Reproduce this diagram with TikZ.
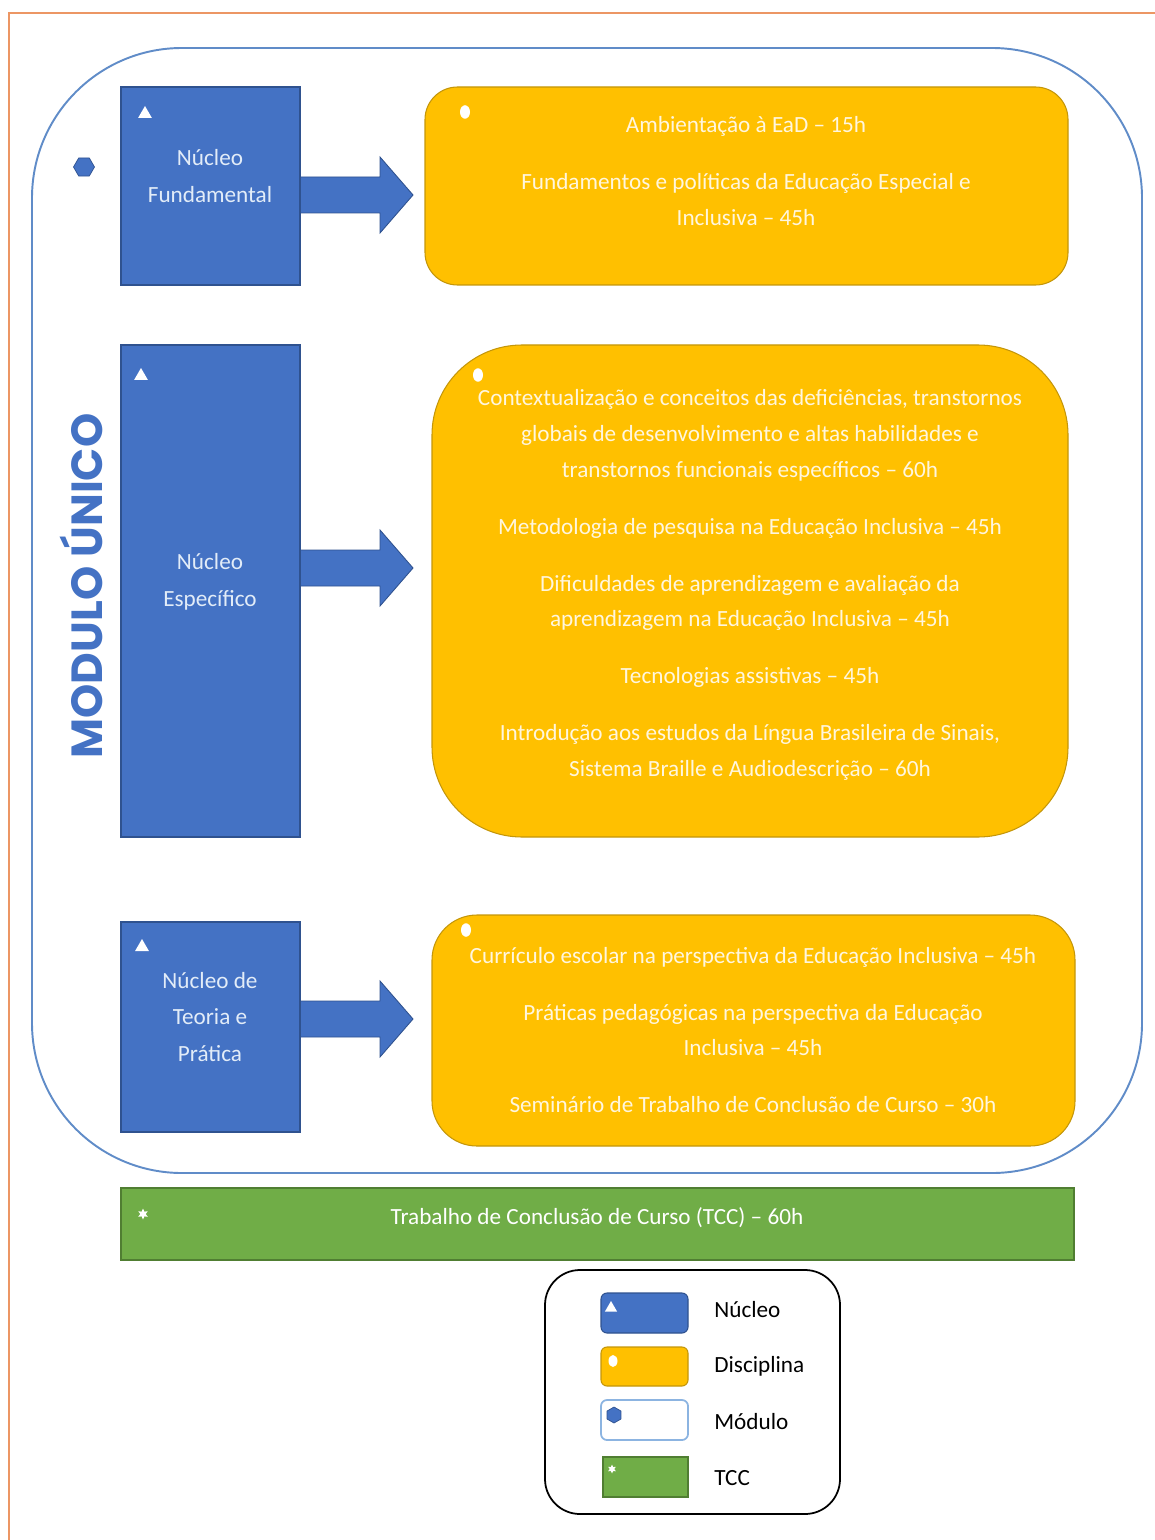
\documentclass[tikz,border=0pt]{standalone}
\usepackage{fontspec}
\setmainfont{Carlito}
\newfontfamily\modfont{Poppins}
\usetikzlibrary{shapes.geometric,fit}
\definecolor{nucleoblue}{RGB}{68,114,196}
\definecolor{nucleoedge}{RGB}{47,82,143}
\definecolor{nucleotext}{RGB}{226,236,248}
\definecolor{discgold}{RGB}{255,192,0}
\definecolor{discedge}{RGB}{196,150,10}
\definecolor{disctext}{RGB}{255,246,222}
\definecolor{tccgreen}{RGB}{112,173,71}
\definecolor{tccedge}{RGB}{80,126,50}
\definecolor{modline}{RGB}{96,140,200}
\definecolor{legmod}{RGB}{140,180,225}
\definecolor{pageline}{RGB}{236,150,100}
\tikzstyle{nucleo}=[draw=nucleoedge, fill=nucleoblue, line width=.6pt, inner sep=0pt]
\tikzstyle{disc}=[draw=discedge, fill=discgold, line width=.6pt, inner sep=0pt]
\tikzstyle{tccbar}=[draw=tccedge, fill=tccgreen, line width=.8pt, inner sep=0pt]
\tikzstyle{modbox}=[draw=modline, line width=1.1pt, inner sep=0pt, rounded corners=3cm]
\tikzstyle{ntext}=[align=center, text=nucleotext, font=\fontsize{13.2}{21}\selectfont]
\tikzstyle{dtext}=[align=center, text=disctext, font=\fontsize{13.2}{20.4}\selectfont]
\tikzstyle{legtext}=[anchor=west, inner sep=0pt, text=black, font=\fontsize{13.2}{16}\selectfont]
\tikzstyle{tri}=[regular polygon, regular polygon sides=3, fill=white, inner sep=0pt, minimum size=.32cm]
\tikzstyle{pip}=[ellipse, fill=white, inner sep=0pt, minimum width=.2cm, minimum height=.27cm]
\tikzstyle{hexa}=[regular polygon, regular polygon sides=6, fill=nucleoblue, draw=nucleoedge, line width=.4pt, inner sep=0pt, minimum size=.42cm]
\tikzstyle{asterisk}=[star, star points=6, star point ratio=2, fill=white, inner sep=0pt, minimum size=.22cm]

\begin{document}
\begin{tikzpicture}[x=0.02cm, y=-0.02cm]
    \useasboundingbox (0,0) rectangle (1155,1540);
    \draw[draw=pageline, line width=1.3pt] (9,1540) -- (9,13) -- (1155,13);

    % modulo unico
    \node[modbox, fit={(32,48) (1142,1173)}] (mod) {};
    \node[hexa] (modhex) at (84,167) {};
    \node[rotate=90, text=nucleoblue, font=\modfont\bfseries\fontsize{24.8}{24.8}\selectfont] (modtitle) at (81,586) {MODULO ÚNICO};

    % block arrows
    \foreach \ay in {195,568,1019}{
      \draw[fill=nucleoblue, draw=nucleoedge, line width=.5pt] (300,\ay-18) -- (380,\ay-18) -- (380,\ay-38) -- (413,\ay)
        -- (380,\ay+38) -- (380,\ay+18) -- (300,\ay+18) -- cycle;
    }

    % nucleos
    \node[nucleo, fit={(121,87) (300,285)}] (nfund) {};
    \node[nucleo, fit={(121,345) (300,837)}] (nesp) {};
    \node[nucleo, fit={(121,922) (300,1132)}] (nteo) {};
    \node[ntext] (nfundtxt) at (210,176) {Núcleo\\Fundamental};
    \node[ntext] (nesptxt) at (210,582) {Núcleo\\Específico};
    \node[ntext] (nteotxt) at (210,1017) {Núcleo de\\Teoria e\\Prática};
    \node[tri] (tria) at (145,114) {};
    \node[tri] (trib) at (141,376) {};
    \node[tri] (tric) at (142,947) {};

    % disciplinas
    \node[disc, rounded corners=.65cm, fit={(425,87) (1068,285)}] (dfund) {};
    \node[disc, rounded corners=1.8cm, fit={(432,345) (1068,837)}] (desp) {};
    \node[disc, rounded corners=.9cm, fit={(432,915) (1075,1146)}] (dteo) {};
    \node[dtext] (dfundtxt) at (746,171) {Ambientação à EaD – 15h\\[11.9pt]
      Fundamentos e políticas da Educação Especial e\\Inclusiva – 45h};
    \node[dtext] (desptxt) at (750,585) {Contextualização e conceitos das deficiências, transtornos\\
      globais de desenvolvimento e altas habilidades e\\
      transtornos funcionais específicos – 60h\\[11.9pt]
      Metodologia de pesquisa na Educação Inclusiva – 45h\\[11.9pt]
      Dificuldades de aprendizagem e avaliação da\\
      aprendizagem na Educação Inclusiva – 45h\\[11.9pt]
      Tecnologias assistivas – 45h\\[11.9pt]
      Introdução aos estudos da Língua Brasileira de Sinais,\\
      Sistema Braille e Audiodescrição – 60h};
    \node[dtext] (dteotxt) at (753,1030) {Currículo escolar na perspectiva da Educação Inclusiva – 45h\\[11.9pt]
      Práticas pedagógicas na perspectiva da Educação\\Inclusiva – 45h\\[11.9pt]
      Seminário de Trabalho de Conclusão de Curso – 30h};
    \node[pip] (pipa) at (465,112) {};
    \node[pip] (pipb) at (478,375) {};
    \node[pip] (pipc) at (466,930) {};

    % tcc
    \node[tccbar, fit={(121,1188) (1074,1260)}] (tcc) {};
    \node[dtext, text=white] (tcctxt) at (597,1218) {Trabalho de Conclusão de Curso (TCC) – 60h};
    \node[asterisk] (tccstar) at (143,1214) {};

    % legenda
    \node[draw=black, line width=1pt, rounded corners=.7cm, inner sep=0pt, fit={(545,1270) (840,1514)}] (leg) {};
    \node[nucleo, rounded corners=.12cm, fit={(601,1293) (688,1333)}] (legn) {};
    \node[disc, rounded corners=.12cm, fit={(601,1347) (688,1386)}] (legd) {};
    \node[draw=legmod, fill=white, line width=1pt, inner sep=0pt, rounded corners=.12cm, fit={(601,1400) (688,1440)}] (legm) {};
    \node[tccbar, fit={(603,1457) (688,1497)}] (legt) {};
    \node[tri, minimum size=.28cm] (legtri) at (611,1308) {};
    \node[pip, minimum width=.18cm, minimum height=.24cm] (legpip) at (613,1361) {};
    \node[hexa, rotate=90, minimum size=.32cm] (leghex) at (614,1415) {};
    \node[asterisk, minimum size=.18cm] (legstar) at (612,1469) {};
    \node[legtext] (legntxt) at (714,1310) {Núcleo};
    \node[legtext] (legdtxt) at (714,1366) {Disciplina};
    \node[legtext] (legmtxt) at (714,1422) {Módulo};
    \node[legtext] (legttxt) at (714,1478) {TCC};
\end{tikzpicture}
\end{document}
